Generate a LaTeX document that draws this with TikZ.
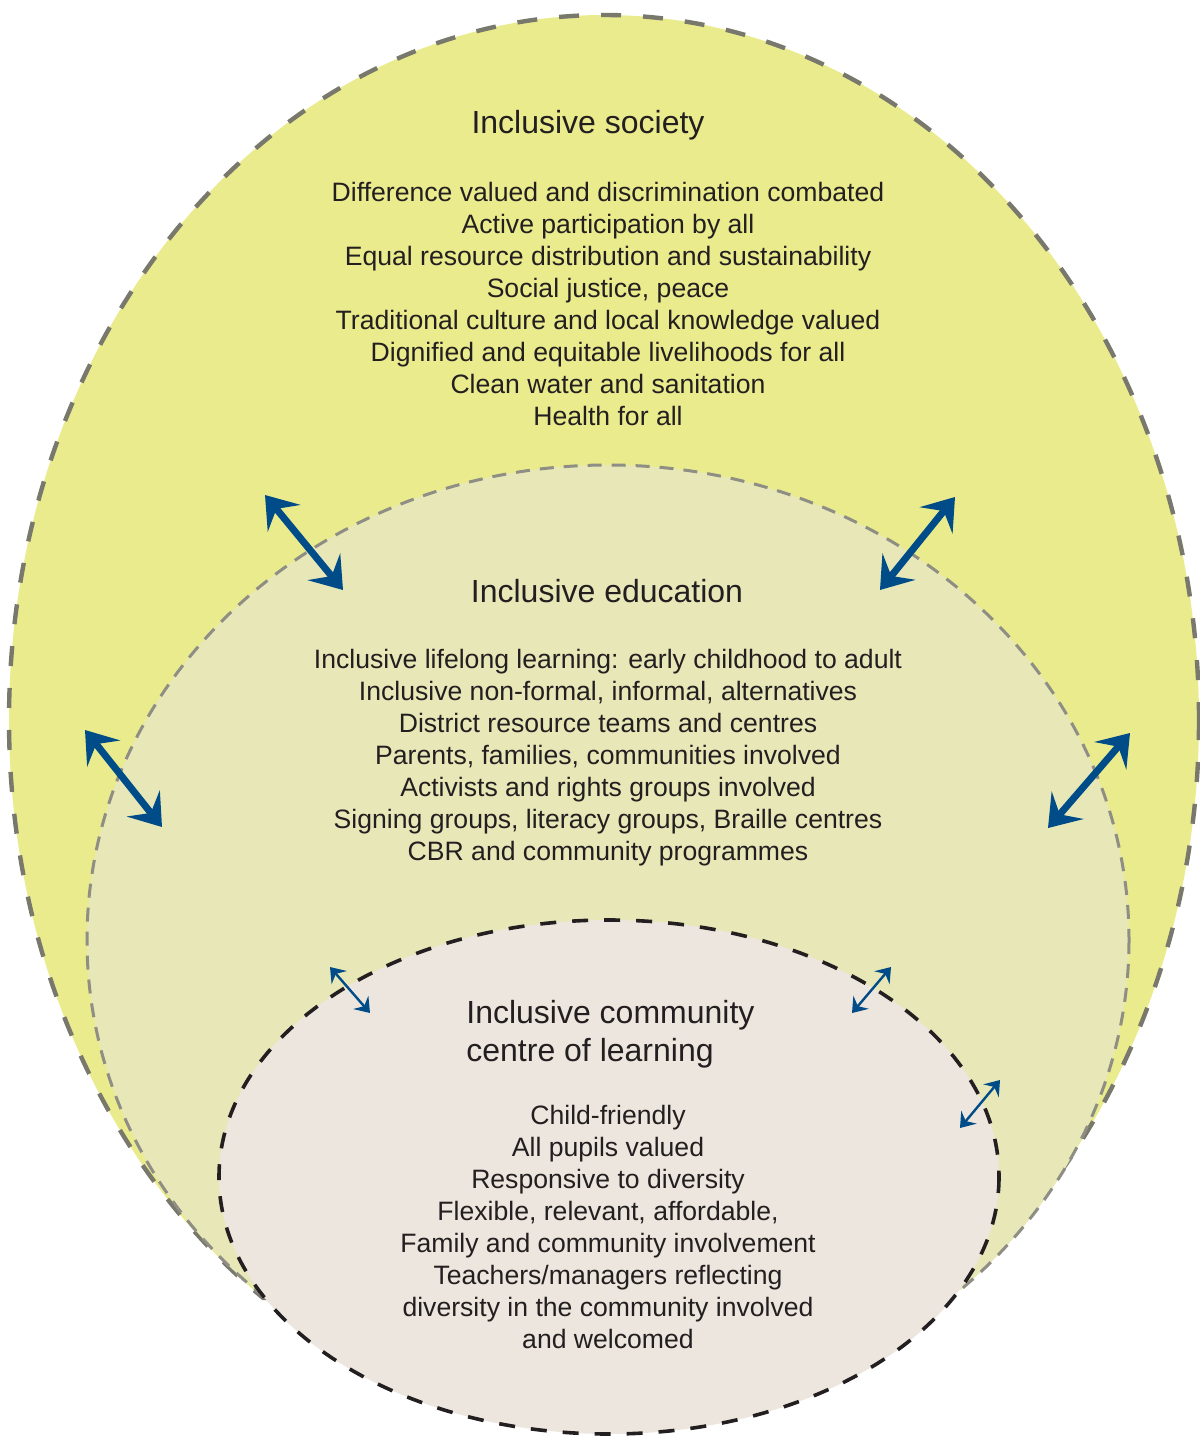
\documentclass[tikz,border=0pt]{standalone}
\usepackage{fontspec}
\setmainfont{Liberation Sans}
\usetikzlibrary{arrows.meta}
\definecolor{societyfill}{RGB}{234,235,141}
\definecolor{educationfill}{RGB}{232,231,184}
\definecolor{centrefill}{RGB}{237,230,222}
\definecolor{outergray}{RGB}{120,120,108}
\definecolor{midgray}{RGB}{142,142,132}
\definecolor{inkblack}{RGB}{35,31,32}
\definecolor{linkblue}{RGB}{0,76,136}
\tikzset{
  heading/.style={font=\fontsize{16}{19}\selectfont, text=inkblack, inner sep=0pt},
  list/.style={font=\fontsize{13.3}{16}\selectfont, text=inkblack, align=center, anchor=north, inner sep=0pt},
  bigarrow/.style={linkblue, line width=3.5pt,
    {Stealth[length=15pt,width=21pt,inset=6pt]}-{Stealth[length=15pt,width=21pt,inset=6pt]}},
  smallarrow/.style={linkblue, line width=1.2pt,
    {Stealth[length=7pt,width=10pt,inset=2.5pt]}-{Stealth[length=7pt,width=10pt,inset=2.5pt]}}
}
\begin{document}
\begin{tikzpicture}[x=0.5pt, y=-0.5pt]
\useasboundingbox (0,0) rectangle (1200,1436);
% the three circles of inclusion
\begin{scope}
\clip (0,0) -- (1200,0) -- (1200,1290) -- (960,1290) -- (266,1300) -- (0,1300) -- cycle;
\draw[fill=societyfill, draw=outergray, line width=2.2pt, dash pattern=on 10pt off 11pt] (604,720) ellipse [x radius=595, y radius=705];
\draw[fill=educationfill, draw=midgray, line width=1.5pt, dash pattern=on 7pt off 5pt] (608,940) ellipse [x radius=521, y radius=475];
\end{scope}
\draw[fill=centrefill, draw=inkblack, line width=1.8pt, dash pattern=on 8pt off 8pt] (609,1177) ellipse [x radius=390, y radius=257];

% texts
\node[heading] (societytitle) at (588,125) {Inclusive society};
\node[list] (societylist) at (608,182) {Difference valued and discrimination combated\\
  Active participation by all\\
  Equal resource distribution and sustainability\\
  Social justice, peace\\
  Traditional culture and local knowledge valued\\
  Dignified and equitable livelihoods for all\\
  Clean water and sanitation\\
  Health for all};
\node[heading] (educationtitle) at (607,591) {Inclusive education};
\node[list] (educationlist) at (608,649) {Inclusive lifelong learning: early childhood to adult\\
  Inclusive non-formal, informal, alternatives\\
  District resource teams and centres\\
  Parents, families, communities involved\\
  Activists and rights groups involved\\
  Signing groups, literacy groups, Braille centres\\
  CBR and community programmes};
\node[heading, align=left, anchor=north west] (centretitle) at (466,1000) {Inclusive community\\centre of learning};
\node[list] (centrelist) at (608,1105) {Child-friendly\\
  All pupils valued\\
  Responsive to diversity\\
  Flexible, relevant, affordable,\\
  Family and community involvement\\
  Teachers/managers reflecting\\
  diversity in the community involved\\
  and welcomed};

% two-way links
\coordinate (topleft-out) at (265,495);  \coordinate (topleft-in) at (343,590);
\coordinate (topright-out) at (955,497); \coordinate (topright-in) at (880,590);
\coordinate (left-out) at (85,730);      \coordinate (left-in) at (162,827);
\coordinate (right-out) at (1130,733);   \coordinate (right-in) at (1048,828);
\coordinate (cleft-out) at (330,967);    \coordinate (cleft-in) at (370,1013);
\coordinate (cright-out) at (891,967);   \coordinate (cright-in) at (852,1013);
\coordinate (cside-out) at (1000,1080);  \coordinate (cside-in) at (960,1128);
\draw[bigarrow] (topleft-out) -- (topleft-in);
\draw[bigarrow] (topright-out) -- (topright-in);
\draw[bigarrow] (left-out) -- (left-in);
\draw[bigarrow] (right-out) -- (right-in);
\draw[smallarrow] (cleft-out) -- (cleft-in);
\draw[smallarrow] (cright-out) -- (cright-in);
\draw[smallarrow] (cside-out) -- (cside-in);
\end{tikzpicture}
\end{document}
